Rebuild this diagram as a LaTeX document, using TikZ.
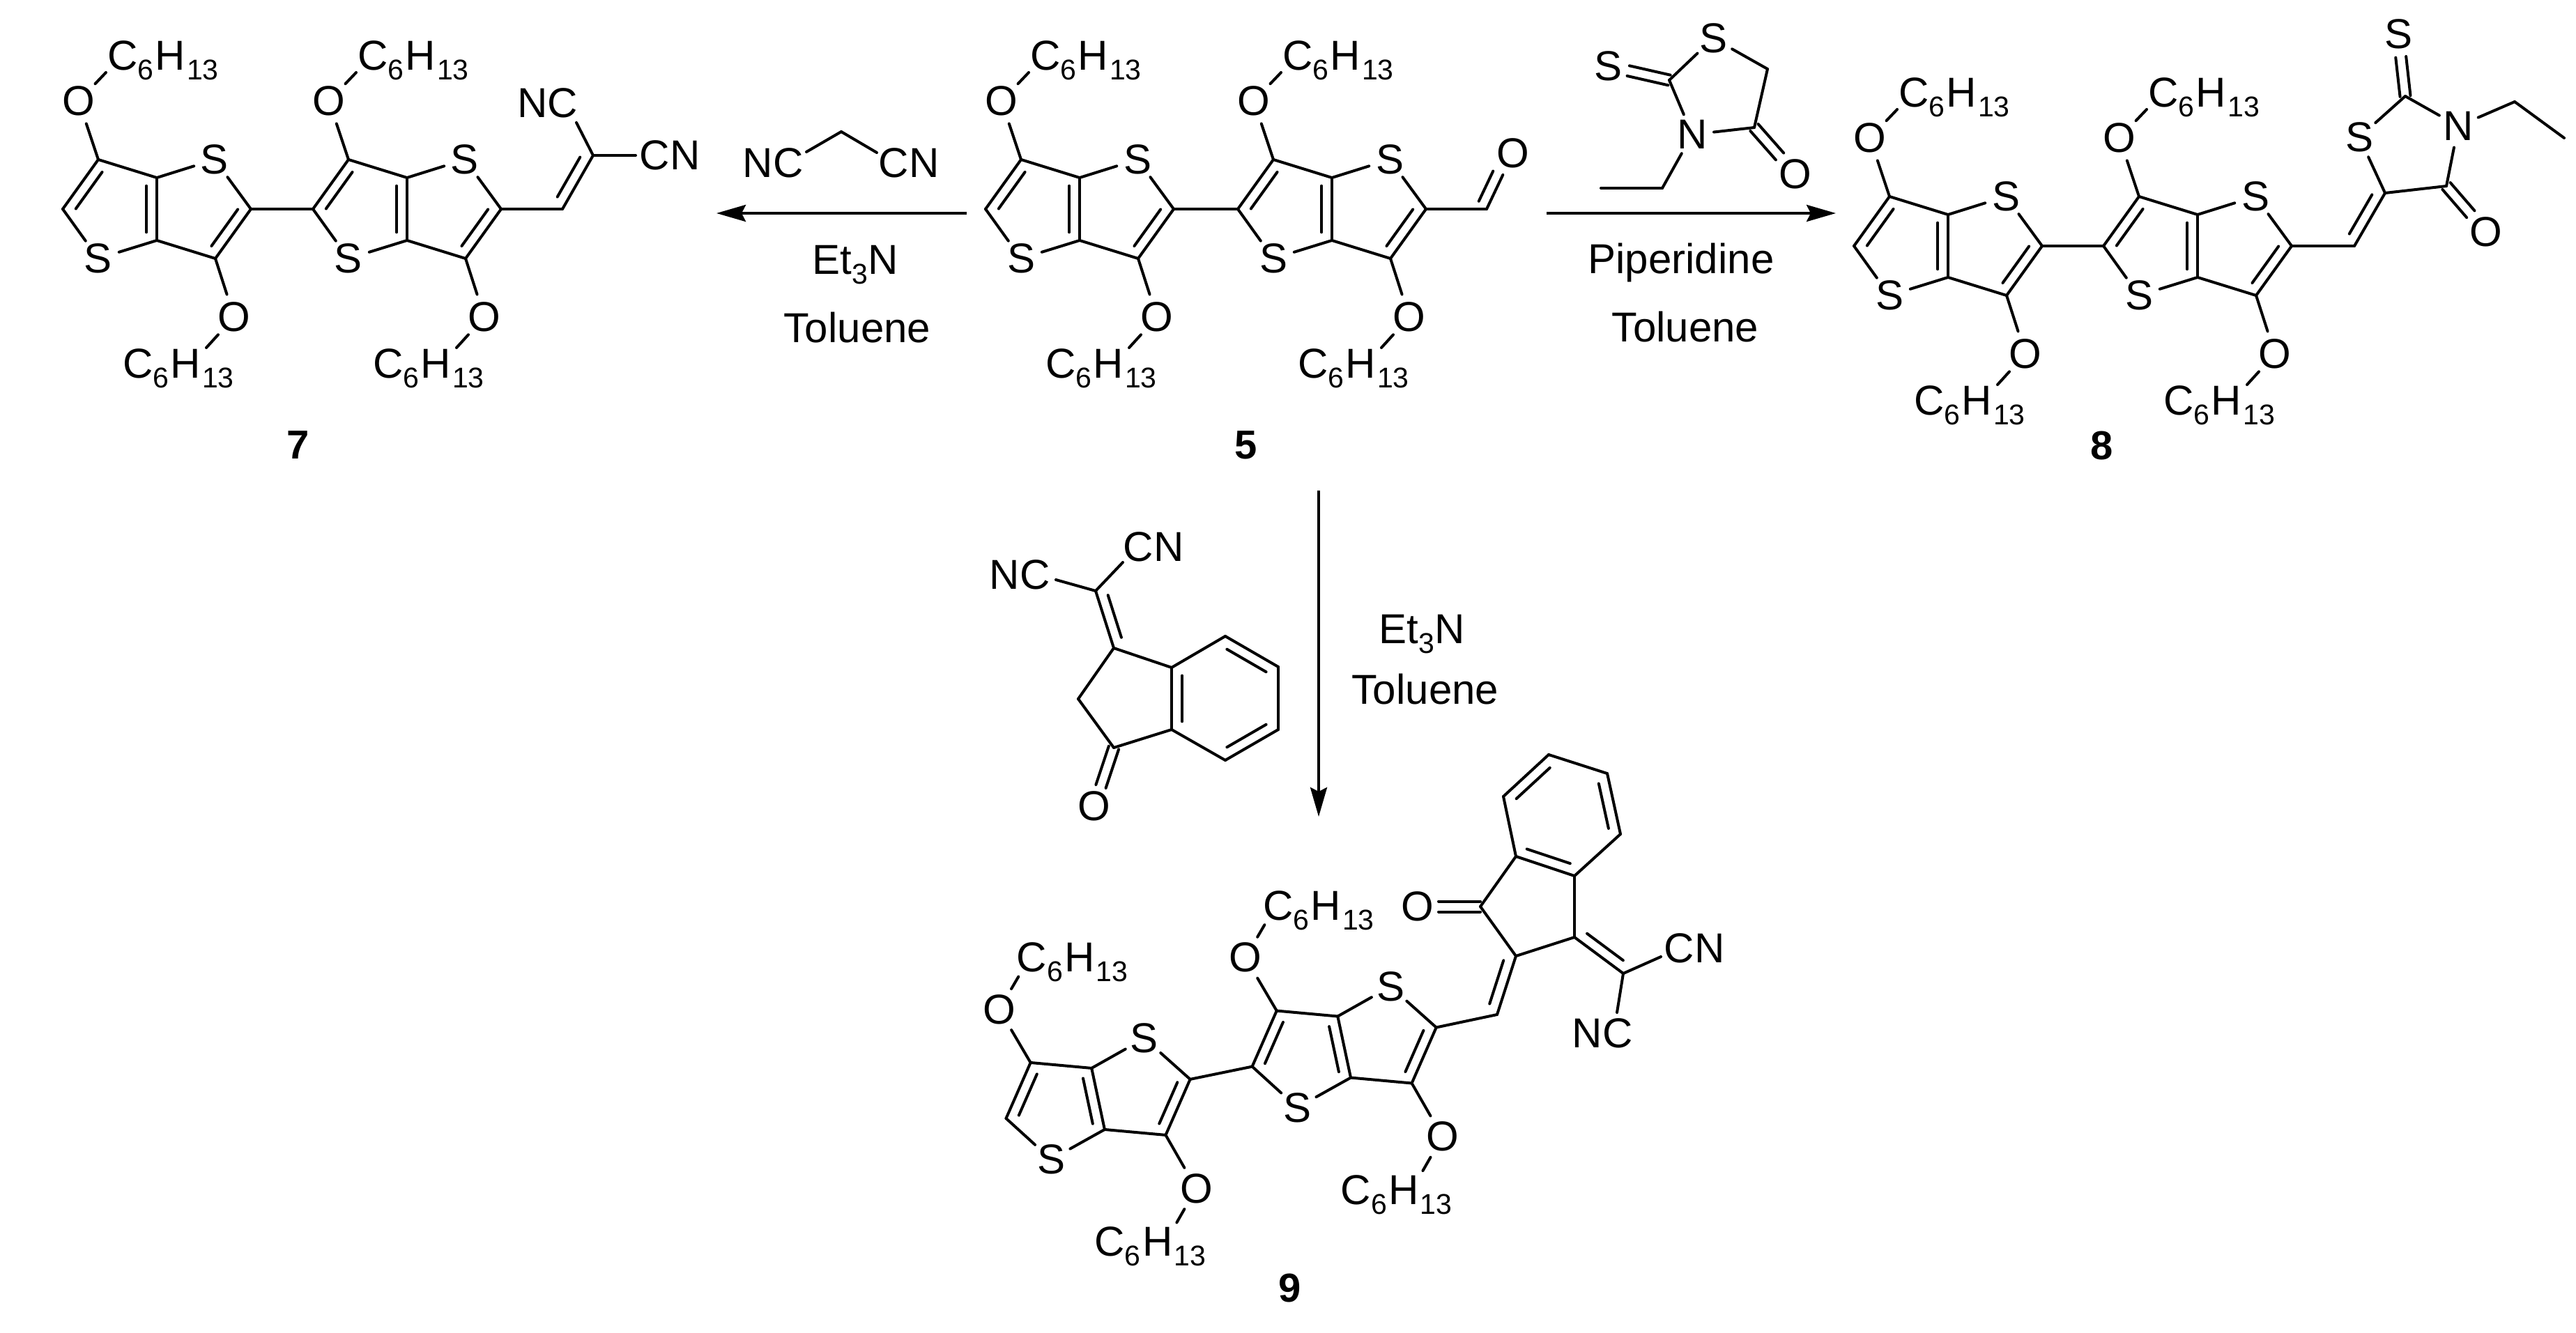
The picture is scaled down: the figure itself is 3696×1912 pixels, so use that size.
\documentclass[tikz,border=0pt]{standalone}
\usepackage{fontspec}
\setmainfont{Liberation Sans}
\usetikzlibrary{calc,arrows.meta}
\newcommand\lowered[1]{\raisebox{-14pt}{\fontsize{41}{41}\selectfont #1}}
\newcommand\hexyl{C\lowered{6}\kern2.5pt H\kern2pt\lowered{13}}
\tikzset{
  bondline/.style={line width=4pt,line cap=round,line join=round},
  atom/.style={circle,inner sep=0pt,minimum size=62pt,font=\fontsize{60}{60}\selectfont},
  oxy/.style={circle,inner sep=0pt,minimum size=68pt,font=\fontsize{60}{60}\selectfont},
  chem/.style={inner sep=0pt,font=\fontsize{60}{60}\selectfont},
  numlabel/.style={inner sep=0pt,font=\fontsize{58}{58}\selectfont\bfseries},
  rxn/.style={line width=4pt,-{Stealth[length=42pt,width=24pt,inset=6pt]}},
}
\newcommand\bond[2]{\draw[bondline] (#1) -- (#2);}
\newcommand\dblf[4]{\draw[bondline] (#1) -- (#2);
  \draw[bondline] ($(#1)!#3!(#2)!15pt!90:(#2)$) -- ($(#1)!#4!(#2)!15pt!-90:(#1)$);}
\newcommand\dbl[2]{\dblf{#1}{#2}{.13}{.87}}
\newcommand\sdbl[3]{%
  \draw[bondline] ($(#1)!7.5pt!90:(#2)$) -- ($(#2)!#3!(#1)!7.5pt!-90:(#1)$);
  \draw[bondline] ($(#1)!7.5pt!-90:(#2)$) -- ($(#2)!#3!(#1)!7.5pt!90:(#1)$);}
% offsets of the hexyl labels and their bond ends from the oxygens
\newcommand\straightunits{\def\tLx{41}\def\tLy{-45}\def\tEx{39}\def\tEy{-41}%
  \def\bLx{-160}\def\bLy{87}\def\bEx{-40}\def\bEy{44}}
\newcommand\tiltedunits{\def\tLx{25}\def\tLy{-54}\def\tEx{27.5}\def\tEy{-47}%
  \def\bLx{-146}\def\bLy{97}\def\bEx{-28}\def\bEy{49}}
\newcommand\thieno[4]{%
  \begin{scope}[shift={(#2,#3)},rotate=#4]
    \coordinate (#1b) at (0,0);
    \coordinate (#1t) at (51,-71);
    \coordinate (#1d) at (135,-45);
    \coordinate (#1c) at (135,45);
    \coordinate (#1e) at (270,0);
    \coordinate (#1f) at (219,71);
    \node[atom] (#1Sb) at (51,71) {S};
    \node[atom] (#1St) at (218,-71) {S};
    \node[oxy] (#1Ot) at (23,-155) {O};
    \node[oxy] (#1Ob) at (246,155) {O};
  \end{scope}
  \node[chem,anchor=base west] (#1Lt) at ($(#1Ot)+(\tLx,\tLy)$) {\hexyl};
  \node[chem,anchor=base west] (#1Lb) at ($(#1Ob)+(\bLx,\bLy)$) {\hexyl};
  \coordinate (#1Et) at ($(#1Ot)+(\tEx,\tEy)$);
  \coordinate (#1Eb) at ($(#1Ob)+(\bEx,\bEy)$);
  \dbl{#1t}{#1b}
  \dbl{#1c}{#1d}
  \dbl{#1f}{#1e}
  \bond{#1t}{#1d}
  \bond{#1c}{#1f}
  \bond{#1b}{#1Sb}
  \bond{#1Sb}{#1c}
  \bond{#1d}{#1St}
  \bond{#1St}{#1e}
  \bond{#1t}{#1Ot}
  \bond{#1Ot}{#1Et}
  \bond{#1f}{#1Ob}
  \bond{#1Ob}{#1Eb}
}
\begin{document}
\begin{tikzpicture}[x=1pt,y=-1pt]
\path[fill=white,use as bounding box] (0,0) rectangle (3696,1912);
\straightunits
%% compound 7
\thieno{sa}{90}{300}{0}
\thieno{sb}{449}{300}{0}
\bond{sae}{sbb}
\coordinate (sv) at (807,300);
\coordinate (sw) at (851,223);
\node[chem] (sNC) at (786,148) {NC};
\node[chem] (sCN) at (961,223) {CN};
\coordinate (sNCe) at (827,176);
\coordinate (sCNe) at (912,223);
\bond{sbe}{sv}
\dbl{sv}{sw}
\bond{sw}{sNCe}
\bond{sw}{sCNe}
\node[numlabel] (n7) at (428,639) {7};
%% compound 5
\thieno{fa}{1414}{300}{0}
\thieno{fb}{1776}{300}{0}
\bond{fae}{fbb}
\coordinate (fv) at (2133,300);
\node[oxy] (fO) at (2171,220) {O};
\bond{fbe}{fv}
\dblf{fv}{fO}{.06}{.6}
\node[numlabel] (n5) at (1788,639) {5};
%% compound 8
\thieno{ea}{2660}{353}{0}
\thieno{eb}{3018}{353}{0}
\bond{eae}{ebb}
\coordinate (ev) at (3378,353);
\coordinate (ec5) at (3422,277);
\coordinate (ec2) at (3451,138);
\coordinate (ec4) at (3510,267);
\coordinate (eet1) at (3608,146);
\coordinate (eet2) at (3679,198);
\node[atom] (eS) at (3385,197) {S};
\node[atom] (eSx) at (3441,49) {S};
\node[atom] (eN) at (3527,181) {N};
\node[oxy] (eO) at (3567,333) {O};
\bond{ebe}{ev}
\dbl{ev}{ec5}
\bond{ec5}{eS}
\bond{eS}{ec2}
\bond{ec2}{eN}
\bond{eN}{ec4}
\bond{ec4}{ec5}
\sdbl{ec2}{eSx}{33pt}
\sdbl{ec4}{eO}{34pt}
\bond{eN}{eet1}
\bond{eet1}{eet2}
\node[numlabel] (n8) at (3016,640) {8};
%% compound 9
\tiltedunits
\thieno{na}{1443.5}{1605}{12}
\thieno{nb}{1796.6}{1530.6}{12}
\bond{nae}{nbb}
\coordinate (nv) at (2148,1456);
\coordinate (nc2) at (2175,1372);
\coordinate (nc3) at (2259,1345);
\coordinate (n3a) at (2259,1257);
\coordinate (n4) at (2325,1197);
\coordinate (n5) at (2306,1110);
\coordinate (n6) at (2222,1083);
\coordinate (n7a) at (2157,1143);
\coordinate (n7b) at (2175,1229);
\coordinate (nc1) at (2124,1301);
\coordinate (nw) at (2329,1397);
\node[oxy] (nO) at (2034,1301) {O};
\node[chem] (nCN) at (2431,1361) {CN};
\node[chem] (nNC) at (2299,1483) {NC};
\coordinate (nCNe) at (2383,1373);
\coordinate (nNCe) at (2320,1453);
\bond{nbe}{nv}
\dbl{nv}{nc2}
\bond{nc2}{nc3}
\bond{nc3}{n3a}
\bond{n3a}{n4}
\dbl{n4}{n5}
\bond{n5}{n6}
\dbl{n6}{n7a}
\bond{n7a}{n7b}
\dbl{n7b}{n3a}
\bond{n7b}{nc1}
\bond{nc1}{nc2}
\sdbl{nc1}{nO}{30pt}
\dbl{nc3}{nw}
\bond{nw}{nCNe}
\bond{nw}{nNCe}
\node[numlabel] (n9) at (1851,1849) {9};
%% reagent: malononitrile
\node[chem] (mNC) at (1109,234) {NC};
\node[chem] (mCN) at (1304,234) {CN};
\coordinate (mC) at (1207,189);
\coordinate (mNCe) at (1157,218);
\coordinate (mCNe) at (1258,219);
\bond{mNCe}{mC}
\bond{mC}{mCNe}
%% reagent: rhodanine
\coordinate (rc5) at (2536,99);
\coordinate (rc4) at (2517,183);
\coordinate (rc2) at (2395,115);
\coordinate (ret1) at (2385,270);
\coordinate (ret2) at (2297,270);
\node[atom] (rS) at (2458,55) {S};
\node[atom] (rSx) at (2307,95) {S};
\node[atom] (rN) at (2428,193) {N};
\node[oxy] (rO) at (2576,250) {O};
\bond{rS}{rc5}
\bond{rc5}{rc4}
\bond{rc4}{rN}
\bond{rN}{rc2}
\bond{rc2}{rS}
\sdbl{rc2}{rSx}{30pt}
\sdbl{rc4}{rO}{34pt}
\bond{rN}{ret1}
\bond{ret1}{ret2}
%% reagent: indanedione derivative
\coordinate (ic) at (1572,848);
\coordinate (ic1) at (1598,930);
\coordinate (i3a) at (1681,958);
\coordinate (ib1) at (1758,913);
\coordinate (ib2) at (1834,957);
\coordinate (ib3) at (1834,1047);
\coordinate (ib4) at (1758,1091);
\coordinate (i7a) at (1681,1047);
\coordinate (ic3) at (1598,1073);
\coordinate (ic2) at (1547,1003);
\node[chem] (iNC) at (1463,825) {NC};
\node[chem] (iCN) at (1655,785) {CN};
\node[oxy] (iO) at (1570,1157) {O};
\coordinate (iNCe) at (1515,832);
\coordinate (iCNe) at (1611,807);
\bond{ic}{iNCe}
\bond{ic}{iCNe}
\dbl{ic}{ic1}
\bond{ic1}{i3a}
\bond{i3a}{ib1}
\dbl{ib2}{ib1}
\bond{ib2}{ib3}
\dbl{ib4}{ib3}
\bond{ib4}{i7a}
\dbl{i3a}{i7a}
\bond{i7a}{ic3}
\bond{ic3}{ic2}
\bond{ic2}{ic1}
\sdbl{ic3}{iO}{30pt}
%% reaction arrows and conditions
\coordinate (al) at (1387,306);
\coordinate (alt) at (1028,306);
\coordinate (ar) at (2219,306);
\coordinate (art) at (2634,306);
\coordinate (ad) at (1892,704);
\coordinate (adt) at (1892,1172);
\draw[rxn] (al) -- (alt);
\draw[rxn] (ar) -- (art);
\draw[rxn] (ad) -- (adt);
\node[chem,anchor=base] (c1) at (1227,393) {Et\lowered{3}N};
\node[chem,anchor=base] (c2) at (1230,491) {Toluene};
\node[chem,anchor=base] (c3) at (2412,392) {Piperidine};
\node[chem,anchor=base] (c4) at (2418,490) {Toluene};
\node[chem,anchor=base] (c5) at (2040,923) {Et\lowered{3}N};
\node[chem,anchor=base] (c6) at (2045,1010) {Toluene};
\end{tikzpicture}
\end{document}
